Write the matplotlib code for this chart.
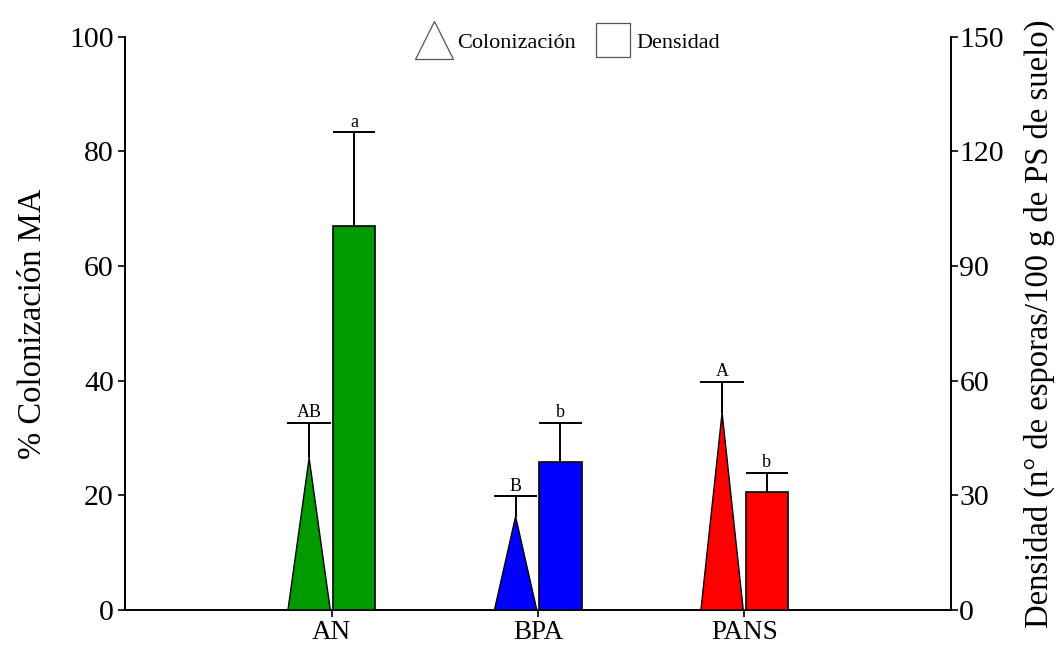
import numpy as np
import matplotlib

matplotlib.use("Agg")
import matplotlib.pyplot as plt
from matplotlib.lines import Line2D

plt.rcParams["font.family"] = ["Liberation Serif", "DejaVu Serif"]

# --- data: colonization (%) as triangles, spore density as bars ---
sites = ["AN", "BPA", "PANS"]
colors = ["#009a00", "#0000ff", "#ff0000"]
colon = [26.5, 16.3, 34.4]
colon_err = [6.1, 3.5, 5.4]
colon_letters = ["AB", "B", "A"]
dens = [100.5, 38.8, 30.9]
dens_err = [24.5, 10.2, 5.0]
dens_letters = ["a", "b", "b"]

x = np.arange(1, len(sites) + 1)
W = 0.205     # width of triangle base and bar
GAP = 0.006   # spacing either side of the category tick

fig = plt.figure(figsize=(10.57, 6.45), dpi=100)
ax = fig.add_axes([0.1183, 0.0543, 0.7814, 0.8888])
ax2 = ax.twinx()

for i, xc in enumerate(x):
    # triangle to the left of the tick
    left, right = xc - GAP - W, xc - GAP
    mid = (left + right) / 2
    ax.vlines(mid, colon[i], colon[i] + colon_err[i], color="black", lw=1.4, zorder=2)
    ax.hlines(colon[i] + colon_err[i], left - 0.003, right + 0.003, color="black", lw=1.4)
    ax.fill([left, mid, right], [0, colon[i], 0], facecolor=colors[i],
            edgecolor="black", lw=1.0, zorder=3)
    ax.text(mid, colon[i] + colon_err[i] + 0.3, colon_letters[i], ha="center",
            va="bottom", fontsize=13)

    # bar to the right of the tick
    b_left = xc + GAP
    b_mid = b_left + W / 2
    ax2.bar(b_left, dens[i], width=W, align="edge", color=colors[i],
            edgecolor="black", lw=1.2, zorder=3)
    top = dens[i] + dens_err[i]
    ax2.vlines(b_mid, dens[i], top, color="black", lw=1.4, zorder=2)
    ax2.hlines(top, b_left, b_left + W, color="black", lw=1.4)
    ax2.text(b_mid, top + 0.45, dens_letters[i], ha="center", va="bottom", fontsize=13)

ax.set_xlim(0, 4)
ax.set_ylim(0, 100)
ax2.set_ylim(0, 150)
ax.set_xticks(x)
ax.set_xticklabels(sites, fontsize=19.5)
ax.set_yticks(np.arange(0, 101, 20))
ax2.set_yticks(np.arange(0, 151, 30))
ax.tick_params(axis="y", labelsize=21.5, length=5, width=1.2, pad=3)
ax.tick_params(axis="x", length=5, width=1.2, pad=2.5)
ax2.tick_params(axis="y", labelsize=21.5, length=5, width=1.2, pad=1)

for a in (ax, ax2):
    a.spines["top"].set_visible(False)
    for s in a.spines.values():
        s.set_linewidth(1.4)
ax.spines["right"].set_visible(False)
ax2.spines["left"].set_visible(False)
ax2.spines["bottom"].set_visible(False)

ax.set_ylabel("% Colonización MA", fontsize=23.5, labelpad=15)
ax2.set_ylabel("Densidad (n° de esporas/100 g de PS de suelo)", fontsize=23.5,
               labelpad=14)

handles = [
    Line2D([], [], ls="none", marker="^", markersize=27, mfc="white",
           mec="#555555", mew=0.9),
    Line2D([], [], ls="none", marker="s", markersize=25, mfc="white",
           mec="#555555", mew=0.9),
]
ax.legend(handles, ["Colonización", "Densidad"], loc="center",
          bbox_to_anchor=(0.537, 0.99), ncol=2, frameon=False, fontsize=16,
          handletextpad=0.3, columnspacing=0.9, handlelength=1.5)

fig.savefig("out.png", dpi=100)
